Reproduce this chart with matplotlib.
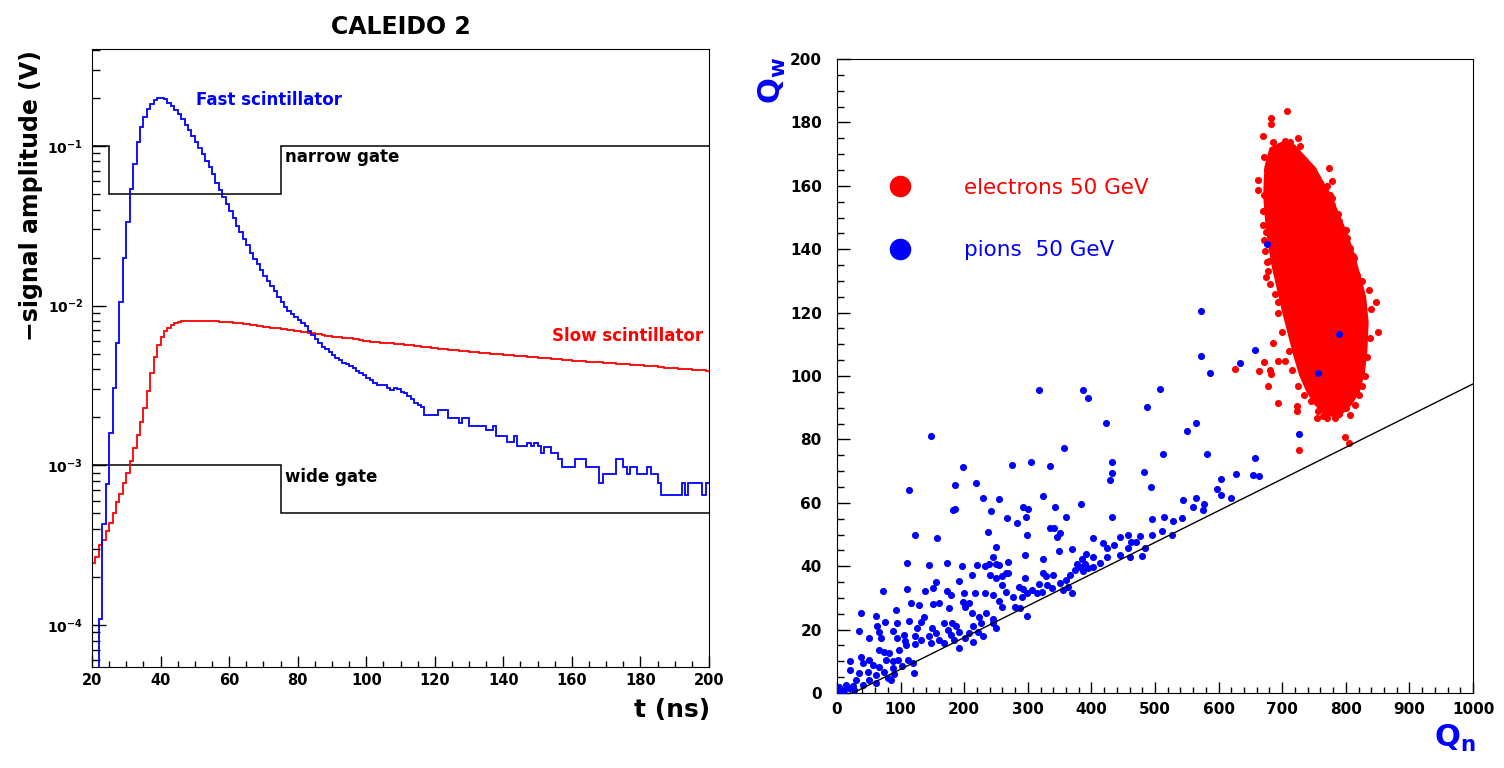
import numpy as np
import matplotlib
matplotlib.use('Agg')
import matplotlib.pyplot as plt
import matplotlib.ticker as ticker
from matplotlib.lines import Line2D

plt.rcParams['font.family'] = ['DejaVu Sans']

# ---- left panel: pulse shapes, 1 ns bins from 20 to 200 ns
t_edges = np.arange(20, 201)

fast_amp = [
    1e-6, 1e-6, 1.09e-4, 4.3e-4, 7.6e-4, 1.6e-3, 3.04e-3, 5.8e-3, 1.05e-2, 1.99e-2,
    3.33e-2, 5.4e-2, 7.75e-2, 0.106, 0.132, 0.153, 0.170, 0.184, 0.195, 0.200,
    0.200, 0.196, 0.187, 0.178, 0.168, 0.158, 0.147, 0.135, 0.126, 0.116,
    0.106, 0.0976, 0.089, 0.081, 0.0735, 0.0665, 0.0589, 0.053, 0.0477, 0.0433,
    0.0392, 0.0354, 0.0316, 0.0288, 0.0262, 0.0239, 0.0215, 0.0197, 0.0182, 0.0167,
    0.0153, 0.0143, 0.0133, 0.0123, 0.0114, 0.0106, 0.00986, 0.0093, 0.00887, 0.0085,
    0.00817, 0.00783, 0.00743, 0.00697, 0.00658, 0.00618, 0.00582, 0.00554, 0.00533, 0.00515,
    0.00491, 0.00469, 0.00457, 0.0044, 0.0043, 0.00419, 0.00405, 0.00392, 0.00381, 0.00368,
    0.00351, 0.00343, 0.0033, 0.00319, 0.00319, 0.00319, 0.00304, 0.00295, 0.00304, 0.0030,
    0.0029, 0.00283, 0.0027, 0.00259, 0.00247, 0.0024, 0.00233, 0.00207, 0.00207, 0.00207,
    0.00207, 0.00222, 0.00222, 0.00222, 0.00197, 0.00197, 0.00197, 0.00185, 0.00197, 0.00197,
    0.00176, 0.00176, 0.00176, 0.00176, 0.00176, 0.00167, 0.00167, 0.00176, 0.00153, 0.00153,
    0.00153, 0.00141, 0.00141, 0.00153, 0.00132, 0.00132, 0.00132, 0.00139, 0.00132, 0.00139,
    0.00132, 0.00119, 0.00131, 0.00131, 0.00119, 0.00119, 0.00109, 0.00098, 0.00098, 0.00098,
    0.00098, 0.00109, 0.00109, 0.00109, 0.00098, 0.00098, 0.00098, 0.00098, 0.00077, 0.00088,
    0.00088, 0.00088, 0.00088, 0.00109, 0.00109, 0.00098, 0.00088, 0.00098, 0.00098, 0.00088,
    0.00088, 0.00088, 0.00098, 0.00088, 0.00088, 0.00077, 0.00065, 0.00065, 0.00065, 0.00065,
    0.00065, 0.00065, 0.00077, 0.00065, 0.00077, 0.00077, 0.00077, 0.00077, 0.00065, 0.00077,
]

slow_amp = [
    2.44e-4, 2.68e-4, 3.18e-4, 3.41e-4, 3.9e-4, 4.38e-4, 5.05e-4, 5.93e-4, 6.62e-4, 7.8e-4,
    9.0e-4, 1.07e-3, 1.28e-3, 1.55e-3, 1.86e-3, 2.3e-3, 2.91e-3, 3.8e-3, 4.8e-3, 5.7e-3,
    6.4e-3, 6.9e-3, 7.3e-3, 7.6e-3, 7.8e-3, 7.9e-3, 8.0e-3, 8.0e-3, 8.0e-3, 8.0e-3,
    8.0e-3, 8.0e-3, 8.0e-3, 8.0e-3, 8.0e-3, 8.0e-3, 8.0e-3, 7.95e-3, 7.9e-3, 7.9e-3,
    7.85e-3, 7.8e-3, 7.8e-3, 7.75e-3, 7.7e-3, 7.65e-3, 7.6e-3, 7.55e-3, 7.5e-3, 7.45e-3,
    7.4e-3, 7.35e-3, 7.3e-3, 7.25e-3, 7.2e-3, 7.15e-3, 7.1e-3, 7.05e-3, 7.0e-3, 6.95e-3,
    6.9e-3, 6.85e-3, 6.8e-3, 6.75e-3, 6.7e-3, 6.65e-3, 6.6e-3, 6.55e-3, 6.5e-3, 6.45e-3,
    6.4e-3, 6.4e-3, 6.35e-3, 6.3e-3, 6.3e-3, 6.25e-3, 6.2e-3, 6.15e-3, 6.1e-3, 6.05e-3,
    6.0e-3, 5.96e-3, 5.93e-3, 5.9e-3, 5.87e-3, 5.84e-3, 5.82e-3, 5.8e-3, 5.78e-3, 5.76e-3,
    5.73e-3, 5.7e-3, 5.67e-3, 5.64e-3, 5.61e-3, 5.58e-3, 5.55e-3, 5.52e-3, 5.49e-3, 5.45e-3,
    5.41e-3, 5.38e-3, 5.36e-3, 5.33e-3, 5.3e-3, 5.28e-3, 5.25e-3, 5.22e-3, 5.2e-3, 5.17e-3,
    5.15e-3, 5.13e-3, 5.1e-3, 5.08e-3, 5.05e-3, 5.03e-3, 5.01e-3, 4.99e-3, 4.97e-3, 4.95e-3,
    4.93e-3, 4.91e-3, 4.89e-3, 4.87e-3, 4.85e-3, 4.83e-3, 4.81e-3, 4.79e-3, 4.77e-3, 4.75e-3,
    4.73e-3, 4.71e-3, 4.69e-3, 4.67e-3, 4.65e-3, 4.63e-3, 4.61e-3, 4.59e-3, 4.57e-3, 4.55e-3,
    4.53e-3, 4.51e-3, 4.5e-3, 4.48e-3, 4.47e-3, 4.45e-3, 4.44e-3, 4.42e-3, 4.41e-3, 4.39e-3,
    4.38e-3, 4.36e-3, 4.35e-3, 4.33e-3, 4.32e-3, 4.3e-3, 4.29e-3, 4.27e-3, 4.26e-3, 4.24e-3,
    4.23e-3, 4.21e-3, 4.2e-3, 4.18e-3, 4.16e-3, 4.14e-3, 4.12e-3, 4.1e-3, 4.08e-3, 4.06e-3,
    4.05e-3, 4.03e-3, 4.02e-3, 4.0e-3, 3.99e-3, 3.97e-3, 3.96e-3, 3.94e-3, 3.93e-3, 3.92e-3,
]

narrow_edges = [20, 25, 75, 200]
narrow_level = [0.1, 0.05, 0.1]
wide_edges = [20, 75, 200]
wide_level = [1e-3, 5e-4]

# ---- right panel: Qw vs Qn
pion_points = [
    (110, 41.1), (145, 40.5), (173, 41.1), (196.6, 40.1), (219.6, 40.3), (233, 40.1), (239.5, 40.8),
    (255, 40.4), (211.7, 37.1), (240.6, 37.3), (259.4, 36.8), (265.7, 37.7), (155.7, 35.1),
    (192.3, 35.4), (72.9, 32.3), (109.5, 32.7), (138.9, 32.3), (151.4, 33.0), (172.4, 32.3),
    (179.2, 30.9), (199, 31.5), (217, 31.5), (233, 31.5), (198.6, 28.8), (208, 28.3), (201.7, 27.2),
    (244.7, 30.9), (255, 28.9), (260, 27.2), (116.3, 28.3), (129.4, 27.7), (151.4, 28.1),
    (160.8, 28.5), (176.6, 26.7), (92.7, 26.2), (37.7, 25.3), (61.3, 24.3), (76, 22.5), (62.4, 21.1),
    (93.8, 22), (112.7, 22.7), (132, 22.5), (125, 20.4), (137.3, 24), (149.4, 20.4), (168.6, 22),
    (180.8, 22.2), (187, 21), (192.3, 19.3), (213.3, 21), (221, 19.3), (226.4, 22.2), (229, 18.1),
    (244.7, 22.2), (250, 20.4), (34, 19.6), (50.8, 17.3), (66.5, 19.3), (69.2, 17.3), (87.5, 19.7),
    (93.8, 17.3), (107.4, 16.4), (105.8, 18.4), (123, 18.1), (123, 15.4), (132, 16.8), (144.1, 18),
    (147.8, 15.7), (155.7, 18.8), (160.8, 16.8), (168.6, 15.7), (173.9, 20), (179.2, 18.4),
    (184.4, 16.8), (192.3, 14.1), (201.7, 17.2), (208, 18.8), (213.3, 16.2), (66.5, 13.6), (74.4, 13),
    (82.3, 12.5), (98, 13.6), (108.5, 15.2), (20.4, 10), (20.4, 7.3), (37.7, 11.5), (41.4, 9.4),
    (50.8, 10.5), (56, 8.8), (66.5, 8.3), (76.9, 10.5), (87.5, 10), (95.3, 10.5), (35.1, 6.2),
    (48.2, 6.7), (61.3, 5.7), (74.4, 6.7), (79.6, 4.6), (87.5, 8), (90.1, 6), (102.2, 8.5),
    (111.1, 10.5), (118.9, 9.4), (121.5, 6.2), (29.9, 4.1), (40.3, 2.5), (50.8, 4.1), (61.3, 3.1),
    (84.9, 4.1), (3.7, 2.0), (11.5, 1.0), (19.4, 1.5), (6.3, 0.5), (24.6, 2.2), (14.2, 2.5), (1, 0.2),
    (27.2, 0.8), (213, 25.1), (224, 24), (234.6, 25.1), (245, 23.5),
    (113, 64), (123, 50), (158, 49), (147.5, 81), (186, 65.5), (182, 57.8), (186, 58.2),
    (422.4, 85.3), (357.5, 77.2), (431.9, 73), (431.9, 69.3), (429.3, 67.2), (274.6, 71.9),
    (304.5, 73), (334.9, 71.6), (197.6, 71.2), (218.5, 66.4), (229, 61.4), (255.3, 61.1),
    (242.2, 57.5), (292, 58.8), (301, 57.9), (297, 55.4), (266.8, 55.1), (282.5, 53.7),
    (323.4, 62.1), (342.8, 58.6), (360, 55.6), (383, 59.6), (432.9, 55.4), (334.9, 51.9),
    (341.2, 51.9), (350.6, 50.6), (346.4, 49.3), (238, 50.8), (298.2, 49.8), (403, 48.8),
    (250, 46.2), (295.6, 43.4), (323.4, 42.3), (349.5, 44.7), (369, 45.3), (418, 47.2), (424, 45.6),
    (435, 46.7), (444.9, 49.3), (458, 49.8), (461.7, 47.7), (470, 47.7), (476, 49.5), (392, 44),
    (403, 42.9), (384.6, 42.4), (376.7, 40.8), (389.8, 40.8), (245.8, 43), (250, 40.8),
    (268.3, 41.4), (250, 36.2), (258.9, 34.1), (268.3, 37.8), (295.6, 36.2), (286.7, 33.5),
    (293, 32.7), (324.5, 37.8), (328.7, 36.8), (340.2, 37.3), (350.6, 34.7), (360, 35.5),
    (366.3, 37.3), (374.2, 38.9), (382, 39.6), (387.2, 38.4), (395, 39.4), (403, 39.9),
    (413.5, 40.9), (424, 43), (444.9, 43.5), (460.6, 43), (458, 45.6), (318, 34.4), (330.8, 34.1),
    (337.6, 33), (355.7, 32.5), (363.6, 33.5), (314, 31.4), (321.8, 31.9), (265.7, 31.9),
    (277.2, 30.4), (290.3, 30.4), (298.2, 31.6), (306, 32.5), (279.9, 27.2), (287.7, 26.7),
    (369, 31.6), (480, 43.3), (484, 45.6), (298, 24.3),
    (572.3, 120.6), (571.7, 106.4), (586.5, 100.8), (634.2, 104.2), (657.3, 108.1), (508.4, 96),
    (486.9, 90.3), (563.9, 85.2), (550.4, 82.5), (512, 75.4), (581.2, 75.4), (483.2, 69.6),
    (493.7, 64.9), (657.3, 74), (627.3, 69.1), (653.5, 68.8), (664, 68.5), (603.2, 67.5),
    (598, 64.2), (603.2, 62.4), (618.9, 61.4), (564.4, 61.6), (559.1, 58.8), (576.9, 59.6),
    (574.8, 57.7), (544.5, 60.9), (541.9, 55.1), (494.8, 54.9), (514.7, 55.4), (527.8, 54.3),
    (494.8, 49.8), (510.5, 51.1), (526.2, 49.8), (318, 95.7), (387, 95.5), (395, 93),
    (676, 141.5), (790, 113.3), (756, 101), (726, 81.8),
]

# electrons: outline of the saturated core, plus the scattered points round it
electron_core_qn = [672, 680, 700, 720, 738, 752, 766, 778, 790, 803, 813, 823, 832, 836, 834,
                    830, 822, 810, 795, 780, 765, 750, 738, 727, 718, 709, 700, 692, 684, 678,
                    673, 670]
electron_core_qw = [166, 172, 174, 173, 169, 166, 161, 157, 151, 145, 139, 132, 125, 117, 108,
                    101, 95, 91, 88, 87, 88, 91, 95, 100, 106, 113, 120, 127, 134, 141,
                    149, 157]

electron_points = [
    (708, 183.6), (682, 181.5), (682, 179.5), (670, 175.6), (712, 173.9), (725, 175), (728, 172.5),
    (686, 173.9), (691, 171.2), (671, 169), (774, 165.5), (778, 161.6), (662, 161.9), (662, 158.8),
    (775, 157.2), (778, 154), (788.5, 151), (801.5, 143.5), (807, 140.4), (813, 137.2), (670, 147.6),
    (674, 145.5), (673, 139.3), (680, 136.4), (677, 133.2), (675, 131.1), (693, 123.5), (706, 120.4),
    (686, 110.3), (625.8, 102.2), (664, 101.5), (681, 101.9), (694, 104.7), (704, 104.7), (678, 97),
    (694, 91.4), (722.7, 88.9), (754, 86.7), (770, 86.7), (783, 86.7), (807, 87.8), (799, 80.9),
    (804.6, 78.8), (727, 76.7), (848, 123.4), (850, 114),
    (836, 127), (840, 121), (838, 112), (833, 106), (830, 100), (826, 97), (820, 94), (814, 91),
    (818, 132), (826, 130), (812, 138), (800, 146), (790, 149), (778, 156), (770, 160), (760, 161),
    (748, 165), (735, 168), (720, 171), (705, 174), (695, 172), (685, 170), (676, 165), (672, 157),
    (670, 152), (672, 143), (676, 136), (681, 129), (688, 126), (694, 120), (700, 114), (710, 108),
    (715, 102), (725, 97), (735, 94), (745, 92), (756, 89), (768, 88), (790, 88), (800, 90), (812, 95),
    (764, 87.5), (682, 100.6), (670.6, 104.5), (723, 90.6),
]

cut_qn = [25, 1000]
cut_qw = [0, 97.5]

W, H = 1504, 768
fig = plt.figure(figsize=(W / 100, H / 100), dpi=100)

# ---------------- left
ax1 = fig.add_axes([92 / W, 1 - 667 / H, (709 - 92) / W, (667 - 49) / H])
ax1.set_yscale('log')
ax1.stairs(narrow_level, narrow_edges, baseline=None, color='black', lw=1.1)
ax1.stairs(wide_level, wide_edges, baseline=None, color='black', lw=1.1)
ax1.stairs(slow_amp, t_edges, baseline=None, color='red', lw=1.3)
ax1.stairs(fast_amp, t_edges, baseline=None, color='blue', lw=1.3)
ax1.set_xlim(20, 200)
ax1.set_ylim(5.46e-5, 0.405)

ax1.set_xticks(range(20, 201, 20))
ax1.set_xticklabels([str(v) for v in range(20, 201, 20)], fontweight='bold', fontsize=10.5)
ax1.xaxis.set_minor_locator(ticker.MultipleLocator(5))
ax1.set_yticks([1e-4, 1e-3, 1e-2, 1e-1])
ax1.set_yticklabels([r'$\mathbf{10^{-4}}$', r'$\mathbf{10^{-3}}$',
                     r'$\mathbf{10^{-2}}$', r'$\mathbf{10^{-1}}$'], fontsize=10)
ax1.yaxis.set_minor_locator(ticker.LogLocator(base=10, subs=np.arange(2, 10)))
ax1.yaxis.set_minor_formatter(ticker.NullFormatter())
ax1.tick_params(which='both', direction='in', top=False, right=False, width=1)
ax1.tick_params(axis='x', which='major', length=7.7, pad=4.3)
ax1.tick_params(axis='x', which='minor', length=4.3)
ax1.tick_params(axis='y', which='major', length=10, pad=6.5)
ax1.tick_params(axis='y', which='minor', length=5.5)

ax1.text(50.3, 0.194, 'Fast scintillator', color='blue', fontsize=12,
         fontweight='bold', va='center')
ax1.text(76.2, 0.0857, 'narrow gate', color='black', fontsize=12,
         fontweight='bold', va='center')
ax1.text(198.2, 6.46e-3, 'Slow scintillator', color='red', fontsize=12,
         fontweight='bold', va='center', ha='right')
ax1.text(76.2, 8.5e-4, 'wide gate', color='black', fontsize=12,
         fontweight='bold', va='center')

fig.text(400.5 / W, 1 - 27.5 / H, 'CALEIDO 2', ha='center', va='center',
         fontsize=17, fontweight='bold')
fig.text(31 / W, 1 - 196 / H, '\u2212signal amplitude (V)', rotation=90, ha='center',
         va='center', fontsize=17, fontweight='bold')
fig.text(710 / W, 1 - 710 / H, 't (ns)', ha='right', va='center', fontsize=18,
         fontweight='bold')

# ---------------- right
ax2 = fig.add_axes([837 / W, 1 - 693 / H, (1473 - 837) / W, (693 - 59) / H])
pions = np.array(pion_points)
electrons = np.array(electron_points)
ax2.fill(electron_core_qn, electron_core_qw, color='red', lw=0, zorder=2)
ax2.scatter(electrons[:, 0], electrons[:, 1], s=26, color='red', linewidths=0, zorder=2)
ax2.scatter(pions[:, 0], pions[:, 1], s=26, color='blue', linewidths=0, zorder=3)
ax2.plot(cut_qn, cut_qw, color='black', lw=1.0, zorder=4)
ax2.set_xlim(0, 1000)
ax2.set_ylim(0, 200)

ax2.set_xticks(range(0, 1001, 100))
ax2.set_xticklabels([str(v) for v in range(0, 1001, 100)], fontweight='bold', fontsize=11)
ax2.xaxis.set_minor_locator(ticker.MultipleLocator(20))
ax2.set_yticks(range(0, 201, 20))
ax2.set_yticklabels([str(v) for v in range(0, 201, 20)], fontweight='bold', fontsize=11)
ax2.yaxis.set_minor_locator(ticker.MultipleLocator(5))
ax2.tick_params(which='both', direction='in', top=False, right=False, width=1)
ax2.tick_params(axis='x', which='major', length=7.7, pad=6.5)
ax2.tick_params(axis='x', which='minor', length=4.3)
ax2.tick_params(axis='y', which='major', length=9.4, pad=11)
ax2.tick_params(axis='y', which='minor', length=5)

handles = [Line2D([], [], marker='o', ls='none', color='red', markersize=14.5),
           Line2D([], [], marker='o', ls='none', color='blue', markersize=14.5)]
ax2.legend(handles, ['electrons 50 GeV', 'pions  50 GeV'], loc='upper left',
           bbox_to_anchor=(0.0818, 0.813), frameon=False, fontsize=15.5,
           handlelength=1.0, handletextpad=2.5, labelspacing=1.98,
           borderpad=0, borderaxespad=0, labelcolor=['red', 'blue'])

fig.text(772 / W, 1 - 80 / H, r'$\mathbf{Q_w}$', rotation=90, color='blue',
         ha='center', va='center', fontsize=22)
fig.text(1455 / W, 1 - 738 / H, r'$\mathbf{Q_n}$', color='blue',
         ha='center', va='center', fontsize=22)

fig.savefig('out.png', dpi=100)
